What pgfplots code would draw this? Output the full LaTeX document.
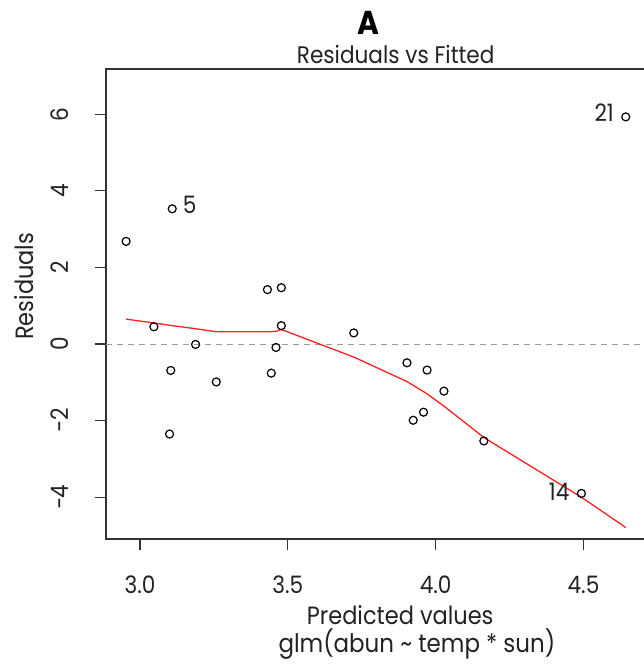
\documentclass[border=0pt]{standalone}
\usepackage{fontspec}
\setmainfont{Poppins}[FakeStretch=0.9]
\usepackage{pgfplots}
\pgfplotsset{compat=1.18}
\definecolor{axgray}{HTML}{333333}
\definecolor{txt}{HTML}{222222}
\definecolor{dashgray}{HTML}{9A9A9A}
\definecolor{loess}{HTML}{FF2020}
\pgfplotstableread{
x y
2.953 2.68
3.047 0.45
3.100 -2.35
3.104 -0.69
3.109 3.53
3.188 -0.01
3.258 -0.99
3.431 1.42
3.444 -0.76
3.460 -0.09
3.478 1.47
3.478 0.48
3.723 0.29
3.903 -0.49
3.924 -1.99
3.959 -1.78
3.971 -0.68
4.028 -1.23
4.163 -2.53
4.493 -3.90
4.643 5.93
}\resid
\pgfplotstableread{
x y
2.953 0.65
3.047 0.55
3.109 0.48
3.188 0.40
3.258 0.32
3.431 0.32
3.460 0.33
3.478 0.38
3.723 -0.34
3.903 -0.98
3.971 -1.30
4.028 -1.62
4.163 -2.44
4.493 -4.00
4.643 -4.79
}\smooth
\begin{document}
\begin{tikzpicture}[x=1pt,y=1pt]
\useasboundingbox (0,0) rectangle (644,664);
\begin{axis}[
  at={(106pt,125pt)}, anchor=south west,
  width=578pt, height=470pt, scale only axis,
  xmin=2.885, xmax=4.84, ymin=-5.09, ymax=7.18,
  xtick={3,3.5,4,4.5}, xticklabels={3.0,3.5,4.0,4.5},
  ytick={-4,-2,0,2,4,6}, yticklabels={−4,−2,0,2,4,6},
  tick align=outside, xtick pos=left, ytick pos=left,
  major tick length=11pt,
  axis line style={line width=1.2pt, axgray},
  every tick/.style={line width=1.2pt, axgray},
  ticklabel style={font=\fontsize{24}{24}\selectfont, text=txt, inner sep=0pt},
  xticklabel style={anchor=north},
  yticklabel style={rotate=90, anchor=south},
  xticklabel shift=26pt,
  yticklabel shift=26pt,
  clip=false,
]
\addplot[dashgray, line width=1pt, dash pattern=on 6pt off 5pt] coordinates {(2.885,0) (4.84,0)};
\addplot[loess, line width=1.3pt] table[x=x,y=y] {\smooth};
\addplot[only marks, mark=o, mark size=4pt, mark options={line width=1.2pt, black}] table[x=x,y=y] {\resid};
\node[text=txt, font=\fontsize{24}{24}\selectfont] at (axis cs:3.168,3.63) {5};
\node[text=txt, font=\fontsize{24}{24}\selectfont] at (axis cs:4.570,6.03) {21};
\node[text=txt, font=\fontsize{24}{24}\selectfont] at (axis cs:4.418,-3.86) {14};
\end{axis}
\node[anchor=base west, inner sep=0pt, text=black, font=\fontsize{33}{33}\selectfont\bfseries] at (357,629) {A};
\node[anchor=base west, inner sep=0pt, text=txt, font=\fontsize{24}{24}\selectfont] at (296.7,600) {Residuals vs Fitted};
\node[anchor=base west, inner sep=0pt, text=txt, font=\fontsize{25}{25}\selectfont] at (306.7,39) {Predicted values};
\node[anchor=base west, inner sep=0pt, text=txt, font=\fontsize{25.5}{25.5}\selectfont] at (278.3,11) {glm(abun \char`\~{} temp * sun)};
\node[anchor=base west, inner sep=0pt, rotate=90, text=txt, font=\fontsize{25}{25}\selectfont] at (33,324) {Residuals};
\end{tikzpicture}
\end{document}
